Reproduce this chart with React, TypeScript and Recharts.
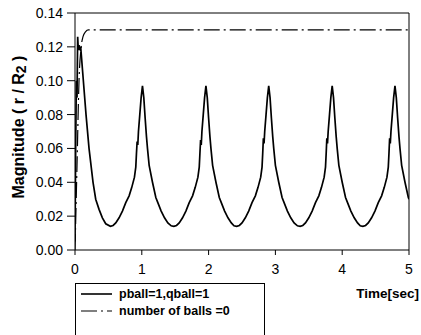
import { LineChart, Line, XAxis, YAxis, ReferenceLine, Label } from 'recharts'

const TIME_TICKS = [0, 1, 2, 3, 4, 5]
const MAG_TICKS = [0, 0.02, 0.04, 0.06, 0.08, 0.1, 0.12, 0.14]

// [time, magnitude]
const pball: [number, number][] = [
  [0, 0.005], [0.01, 0.06], [0.02, 0.1], [0.03, 0.09], [0.04, 0.126], [0.05, 0.118], [0.06, 0.121],
  [0.075, 0.119], [0.085, 0.12], [0.125, 0.1], [0.165, 0.08], [0.21, 0.06], [0.27, 0.04], [0.31, 0.03],
  [0.36, 0.024], [0.41, 0.019], [0.46, 0.0155],
  [0.53, 0.014], [0.57, 0.0145], [0.61, 0.016], [0.66, 0.019], [0.71, 0.023], [0.76, 0.028], [0.81, 0.032],
  [0.85, 0.037], [0.89, 0.043], [0.91, 0.049], [0.92, 0.057], [0.93, 0.064], [0.94, 0.062], [0.95, 0.07],
  [0.97, 0.08], [0.99, 0.09], [1.01, 0.097], [1.03, 0.09], [1.05, 0.078], [1.07, 0.067], [1.085, 0.06],
  [1.11, 0.05], [1.16, 0.04], [1.21, 0.031], [1.24, 0.028], [1.29, 0.023], [1.34, 0.019], [1.39, 0.016],
  [1.44, 0.0143],
  [1.48, 0.014], [1.52, 0.0145], [1.56, 0.016], [1.61, 0.019], [1.66, 0.023], [1.71, 0.028], [1.76, 0.032],
  [1.8, 0.037], [1.84, 0.043], [1.86, 0.049], [1.87, 0.057], [1.88, 0.065], [1.89, 0.062], [1.9, 0.07],
  [1.92, 0.08], [1.94, 0.09], [1.96, 0.097], [1.98, 0.09], [2.0, 0.078], [2.02, 0.067], [2.035, 0.06],
  [2.06, 0.05], [2.11, 0.04], [2.16, 0.031], [2.19, 0.028], [2.24, 0.023], [2.29, 0.019], [2.34, 0.016],
  [2.38, 0.0143],
  [2.42, 0.014], [2.46, 0.0145], [2.5, 0.016], [2.55, 0.019], [2.6, 0.023], [2.65, 0.028], [2.7, 0.032],
  [2.74, 0.037], [2.78, 0.043], [2.8, 0.049], [2.81, 0.057], [2.82, 0.066], [2.83, 0.063], [2.84, 0.07],
  [2.86, 0.08], [2.88, 0.09], [2.9, 0.097], [2.92, 0.09], [2.94, 0.078], [2.96, 0.067], [2.975, 0.06],
  [3.0, 0.05], [3.05, 0.04], [3.1, 0.031], [3.13, 0.028], [3.18, 0.023], [3.23, 0.019], [3.28, 0.016],
  [3.33, 0.0143],
  [3.37, 0.014], [3.41, 0.0145], [3.45, 0.016], [3.5, 0.019], [3.55, 0.023], [3.6, 0.028], [3.65, 0.032],
  [3.69, 0.037], [3.73, 0.043], [3.75, 0.049], [3.76, 0.057], [3.77, 0.066], [3.78, 0.063], [3.79, 0.07],
  [3.81, 0.08], [3.83, 0.09], [3.85, 0.097], [3.87, 0.09], [3.89, 0.078], [3.91, 0.067], [3.925, 0.06],
  [3.95, 0.05], [4.0, 0.04], [4.05, 0.031], [4.08, 0.028], [4.13, 0.023], [4.18, 0.019], [4.23, 0.016],
  [4.27, 0.0143],
  [4.31, 0.014], [4.35, 0.0145], [4.39, 0.016], [4.44, 0.019], [4.49, 0.023], [4.54, 0.028], [4.59, 0.032],
  [4.63, 0.037], [4.67, 0.043], [4.69, 0.049], [4.7, 0.057], [4.71, 0.066], [4.72, 0.063], [4.73, 0.07],
  [4.75, 0.08], [4.77, 0.09], [4.79, 0.097], [4.81, 0.09], [4.83, 0.078], [4.85, 0.067], [4.865, 0.06],
  [4.89, 0.05], [4.94, 0.04], [4.99, 0.031], [5.0, 0.03],
]

const noBalls: [number, number][] = [
  [0, 0], [0.03, 0.05], [0.06, 0.1], [0.09, 0.119], [0.12, 0.126], [0.16, 0.129], [0.2, 0.13], [5, 0.13],
]

const FONT = '"Liberation Sans", Arial, sans-serif'

const toRows = (pts: [number, number][]) => pts.map(([t, v]) => ({ t, v }))

function LegendBox() {
  return (
    <div
      style={{
        position: 'absolute', left: 75, top: 283, width: 188, height: 51,
        border: '1px solid #000', background: '#fff', fontFamily: FONT,
        fontWeight: 'bold', fontSize: 12.5, color: '#000',
      }}
    >
      <div style={{ position: 'absolute', left: 5, top: 3, display: 'flex', alignItems: 'center' }}>
        <svg width={32} height={14}><line x1={0} y1={7} x2={31} y2={7} stroke="#000" strokeWidth={1.6} /></svg>
        <span style={{ marginLeft: 6 }}>pball=1,qball=1</span>
      </div>
      <div style={{ position: 'absolute', left: 5, top: 20, display: 'flex', alignItems: 'center' }}>
        <svg width={32} height={14}>
          <line x1={0} y1={7} x2={31} y2={7} stroke="#000" strokeWidth={1.1} strokeDasharray="16 4 2 4" />
        </svg>
        <span style={{ marginLeft: 6 }}>number of balls =0</span>
      </div>
    </div>
  )
}

export default function App() {
  return (
    <div style={{ position: 'absolute', left: 0, top: 0, width: 421, height: 335, background: '#fff' }}>
      <LineChart width={421} height={335} margin={{ top: 13, right: 12, left: 15, bottom: 55 }}>
        <XAxis
          type="number"
          dataKey="t"
          domain={[0, 5]}
          ticks={TIME_TICKS}
          allowDataOverflow
          height={30}
          tickSize={5}
          tickMargin={9}
          axisLine={{ stroke: '#000' }}
          tickLine={{ stroke: '#000' }}
          tick={{ fill: '#000', fontSize: 14, fontFamily: FONT }}
        >
          <Label
            content={() => (
              <text x={419} y={298} textAnchor="end" fontFamily={FONT} fontWeight="bold" fontSize={13.5} fill="#000">
                Time[sec]
              </text>
            )}
          />
        </XAxis>
        <YAxis
          type="number"
          domain={[0, 0.14]}
          ticks={MAG_TICKS}
          allowDataOverflow
          width={60}
          tickSize={8}
          tickMargin={4}
          tickFormatter={(v: number) => v.toFixed(2)}
          axisLine={{ stroke: '#000' }}
          tickLine={{ stroke: '#000' }}
          tick={{ fill: '#000', fontSize: 14, fontFamily: FONT }}
        >
          <Label
            content={() => (
              <text
                x={24}
                y={127}
                transform="rotate(-90, 24, 127)"
                textAnchor="middle"
                fontFamily={FONT}
                fontWeight="bold"
                fontSize={16}
                fill="#000"
              >
                Magnitude ( r / R<tspan fontSize={14} dy={2}>2</tspan><tspan dy={-2}> )</tspan>
              </text>
            )}
          />
        </YAxis>
        <ReferenceLine y={0.14} stroke="#000" />
        <ReferenceLine x={5} stroke="#000" />
        <Line
          data={toRows(noBalls)}
          dataKey="v"
          type="monotone"
          stroke="#000"
          strokeWidth={1.2}
          strokeDasharray="16 4 2 4"
          dot={false}
          isAnimationActive={false}
        />
        <Line
          data={toRows(pball)}
          dataKey="v"
          type="linear"
          stroke="#000"
          strokeWidth={1.7}
          dot={false}
          isAnimationActive={false}
        />
      </LineChart>
      <LegendBox />
    </div>
  )
}
